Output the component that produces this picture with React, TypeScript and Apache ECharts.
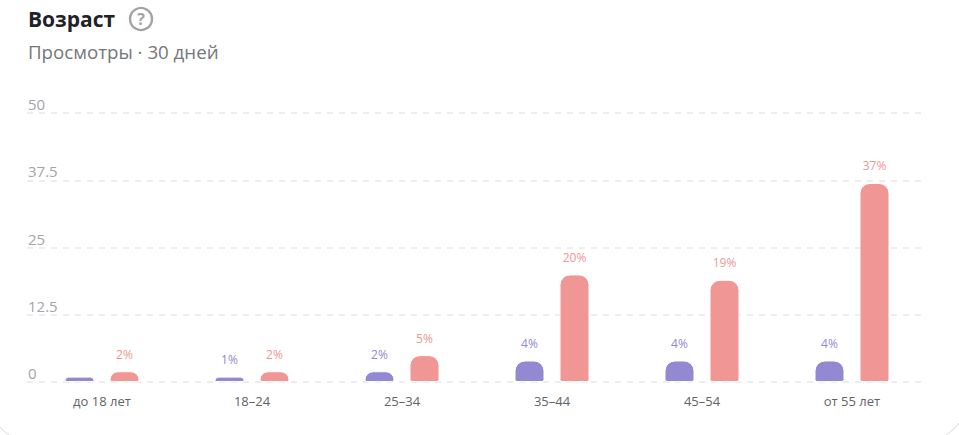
import React, { useEffect, useRef } from "react";
import * as echarts from "echarts";

const categories = ["до 18 лет", "18–24", "25–34", "35–44", "45–54", "от 55 лет"];
const purpleValues = [1, 1, 2, 4, 4, 4];
const salmonValues = [2, 2, 5, 20, 19, 37];
const hiddenPurpleLabels = [0];
const FONT = '"Open Sans", "Noto Sans", sans-serif';
const PURPLE = "#9388d2";
const SALMON = "#f09694";

export default function App() {
  const ref = useRef<HTMLDivElement>(null);
  useEffect(() => {
    const chart = echarts.init(ref.current!, null, { renderer: "svg" });
    const barBase = { type: "bar", barWidth: 30, barGap: "50%" };
    chart.setOption({
      animation: false,
      backgroundColor: "#ffffff",
      grid: { left: 27, right: 32, top: 113, bottom: 53 },
      xAxis: {
        type: "category",
        data: categories,
        axisLine: { show: false },
        axisTick: { show: false },
        axisLabel: { color: "#5f6368", fontSize: 13, fontFamily: FONT, margin: 12 },
      },
      yAxis: {
        type: "value",
        min: 0,
        max: 50,
        interval: 12.5,
        axisLine: { show: false },
        axisTick: { show: false },
        axisLabel: {
          inside: true,
          margin: 1,
          color: "#a3a5a8",
          fontSize: 15,
          fontFamily: FONT,
          verticalAlign: "bottom",
          align: "left",
          lineHeight: 18,
        },
        splitLine: { lineStyle: { color: "#e8e8ea", type: [6, 6], width: 1.5 } },
      },
      series: [
        {
          ...barBase,
          name: "Группа 1",
          data: purpleValues.map((value, i) => ({
            value,
            label: { show: !hiddenPurpleLabels.includes(i) },
          })),
          itemStyle: {
            color: PURPLE,
            borderColor: "#ffffff",
            borderWidth: 1,
            borderRadius: [10, 10, 2, 2],
          },
          label: {
            show: true,
            position: "top",
            distance: 11,
            formatter: "{c}%",
            color: PURPLE,
            fontSize: 12,
            fontFamily: FONT,
          },
        },
        {
          ...barBase,
          name: "Группа 2",
          data: salmonValues,
          itemStyle: {
            color: SALMON,
            borderColor: "#ffffff",
            borderWidth: 1,
            borderRadius: [10, 10, 2, 2],
          },
          label: {
            show: true,
            position: "top",
            distance: 11,
            formatter: "{c}%",
            color: SALMON,
            fontSize: 12,
            fontFamily: FONT,
          },
        },
      ],
      graphic: [
        {
          type: "text",
          x: 28,
          y: 8,
          style: { text: "Возраст", fill: "#1f2329", font: `700 21px ${FONT}` },
        },
        {
          type: "text",
          x: 28,
          y: 42,
          style: { text: "Просмотры · 30 дней", fill: "#73777c", font: `400 18.7px ${FONT}` },
        },
        {
          type: "circle",
          shape: { cx: 141, cy: 19, r: 11 },
          style: { fill: "none", stroke: "#a3a3a3", lineWidth: 2.4 },
        },
        {
          type: "text",
          x: 141,
          y: 19,
          style: {
            text: "?",
            fill: "#a3a3a3",
            font: `700 16px ${FONT}`,
            align: "center",
            verticalAlign: "middle",
          },
        },
        {
          type: "bezierCurve",
          shape: { x1: 0, y1: 427, x2: 9, y2: 435, cpx1: 3, cpy1: 431 },
          style: { fill: "none", stroke: "#d9d9d9", lineWidth: 1 },
        },
        {
          type: "bezierCurve",
          shape: { x1: 946, y1: 435, x2: 959, y2: 423, cpx1: 953, cpy1: 431 },
          style: { fill: "none", stroke: "#d9d9d9", lineWidth: 1 },
        },
      ],
    });
    return () => chart.dispose();
  }, []);
  return (
    <div
      ref={ref}
      style={{ position: "fixed", left: 0, top: 0, width: 959, height: 435 }}
    />
  );
}
